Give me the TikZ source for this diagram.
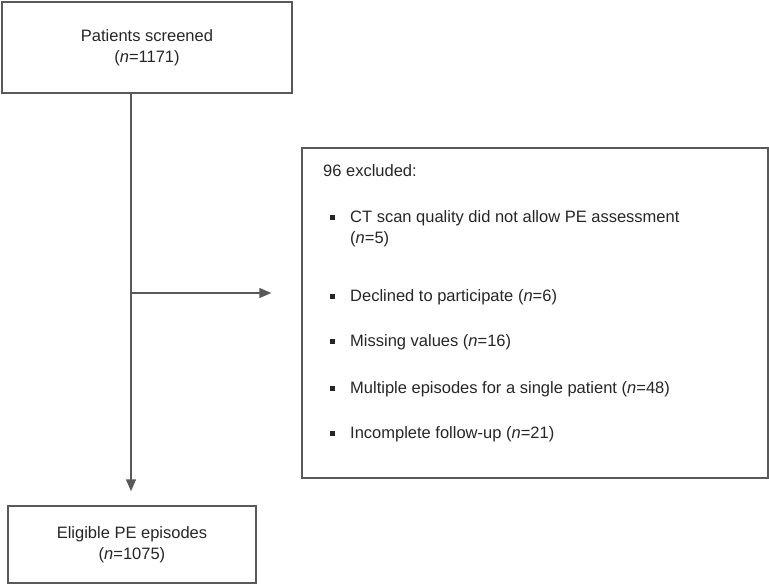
\documentclass[tikz,border=0pt]{standalone}
\usepackage{fontspec}
\setmainfont{Liberation Sans}
\usetikzlibrary{arrows.meta}
\newcommand{\sqbullet}{\rule[2.8pt]{4.5pt}{4.5pt}}

\begin{document}
\begin{tikzpicture}[x=1pt,y=-1pt]
        % Define styles
        \tikzset{
            box/.style={rectangle, draw=black!65, line width=1.5pt, inner sep=0pt, text=black!85, font=\fontsize{16.5}{21}\selectfont},
            excl/.style={anchor=base west, inner sep=0pt, text=black!85, font=\fontsize{16.5}{21}\selectfont},
            arrow/.style={-{Triangle[length=12pt,width=10pt]}, draw=black!65, line width=1.5pt}
        }
        \useasboundingbox (0,0) rectangle (769,584);

        % Nodes
        \node[box, minimum width=290pt, minimum height=91pt] (screened) at (147,47.5) {\parbox{6cm}{\centering Patients screened \\ (\textit{n}=1171)}};
        \node[box, minimum width=466pt, minimum height=330pt] (excluded) at (535,313) {};
        \node[box, minimum width=248pt, minimum height=77pt] (eligible) at (132,544.5) {\parbox{6cm}{\centering Eligible PE episodes \\ (\textit{n}=1075)}};

        % Excluded list
        \node[excl] (excl_title) at (323,176.5) {96 excluded:};
        \node[excl] (excl_item_1) at (330,222.5) {\sqbullet\hspace{15.5pt}\parbox[t]{340pt}{CT scan quality did not allow PE assessment \\ (\textit{n}=5)}};
        \node[excl] (excl_item_2) at (330,301.5) {\sqbullet\hspace{15.5pt}Declined to participate (\textit{n}=6)};
        \node[excl] (excl_item_3) at (330,346.5) {\sqbullet\hspace{15.5pt}Missing values (\textit{n}=16)};
        \node[excl] (excl_item_4) at (330,393.5) {\sqbullet\hspace{15.5pt}Multiple episodes for a single patient (\textit{n}=48)};
        \node[excl] (excl_item_5) at (330,438.5) {\sqbullet\hspace{15.5pt}Incomplete follow-up (\textit{n}=21)};

        \coordinate (branch) at (131,293);

        % Arrows
        \draw[arrow, shorten >=14pt] (branch |- screened.south) -- (branch |- eligible.north);
        \draw[arrow, shorten >=30pt] (branch) -- (branch -| excluded.west);
    \end{tikzpicture}
\end{document}
